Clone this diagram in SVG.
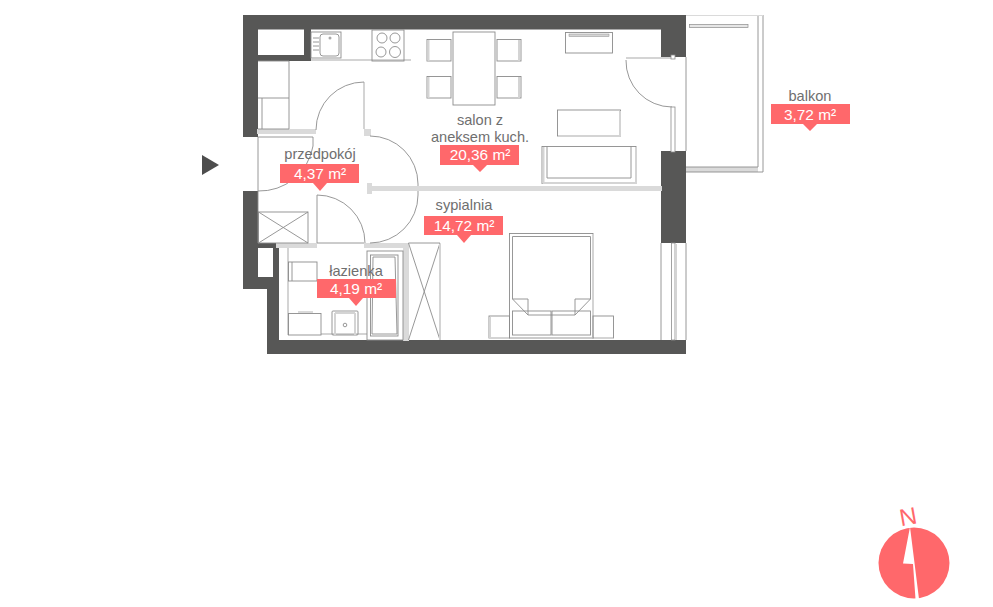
<svg xmlns="http://www.w3.org/2000/svg" width="993" height="607" viewBox="0 0 993 607">
<style>
text{font-family:"Liberation Sans",Arial,sans-serif;font-size:14.6px;text-anchor:middle}
.n{fill:#6f6f6f}.v{fill:#fff;font-size:15.4px}
.wall{fill:#575756}
.pt{fill:#dadada}
.l{fill:none;stroke:#8c8c8c;stroke-width:.9}
.h{fill:none;stroke:#d4d4d4;stroke-width:2}
.tag{fill:#ff686b}
</style>
<rect width="993" height="607" fill="#fff"/>
<g id="walls">
<path class="wall" d="M243 15H686V57H661V29.500H311V61H258V137H243Z"/>
<rect x="258" y="29.500" width="46" height="25.500" fill="#fff"/>
<path class="wall" d="M243 191H258V243H279V340H661V340H686V354H267V289H243Z"/>
<rect x="258" y="248" width="15" height="29" fill="#fff"/>
<rect class="wall" x="661" y="151" width="25" height="92"/>
</g>
<g id="partitions">
<rect class="pt" x="257" y="129" width="59" height="5"/>
<rect class="pt" x="364" y="129" width="7" height="7"/>
<rect class="pt" x="367" y="186" width="295" height="5"/>
<rect class="pt" x="367" y="183" width="5" height="11"/>
<rect class="pt" x="276" y="243" width="41" height="5"/>
<rect class="pt" x="364" y="243" width="45" height="5"/>
<rect class="pt" x="403" y="243" width="6" height="98"/>
<path class="h" d="M288 248V335M311 60H411M364 82V129M321 334H367"/>
</g>
<g id="connectors">
<path class="l" d="M364 82A48 48 0 0 0 316 130"/>
<path class="l" d="M370 136A48 48 0 0 1 418 184V186"/>
<path class="l" d="M258 137H313V146A54 54 0 0 1 258 191"/>
<path class="l" d="M258 137V243M317 195V243H364M317 195A48 48 0 0 1 365 243"/>
<path class="l" d="M418 191V195A48 48 0 0 1 370 243"/>
<path class="l" d="M626 60A46 46 0 0 0 672 107"/>
<path class="h" d="M626 58H672"/>
<path class="l" d="M686 57V151M661 243V340M686 243V340"/>
</g>
<g id="kitchen">
<rect class="l" x="311" y="32" width="30" height="26"/>
<rect class="l" x="320" y="34" width="19" height="22" rx="3"/>
<path class="l" d="M313 38H319M313 42H319M313 46H319M313 50H319"/>
<circle cx="330" cy="38" r="1.500" fill="#aaa"/>
<rect class="l" x="372" y="30" width="32" height="31"/>
<circle class="l" cx="382" cy="38" r="5"/><circle class="l" cx="395" cy="38" r="5"/>
<circle class="l" cx="381" cy="52" r="5"/><circle class="l" cx="395" cy="52" r="5.500"/>
<path class="l" d="M258 61H289V129H258M258 98H289M262 98V129"/>
</g>
<g id="dining">
<rect class="l" x="453" y="32" width="42" height="73"/>
<rect class="l" x="427" y="39.500" width="24" height="21.500"/><path class="h" d="M428.500 40V61"/>
<rect class="l" x="427" y="76.500" width="24" height="21.500"/><path class="h" d="M428.500 77V98"/>
<rect class="l" x="497" y="39.500" width="24" height="21.500"/><path class="h" d="M519 40V61"/>
<rect class="l" x="497" y="76.500" width="24" height="21.500"/><path class="h" d="M519 77V98"/>
</g>
<g id="living">
<rect class="l" x="565.500" y="32.500" width="47" height="20.500"/>
<rect x="569" y="34" width="40" height="2.500" fill="#d4d4d4" stroke="#8c8c8c" stroke-width=".5"/>
<rect class="l" x="557.500" y="110" width="63" height="26"/>
<path class="h" d="M558 136H620M620 111V136"/>
<rect class="l" x="542" y="146.500" width="94" height="37"/>
<path class="l" d="M547 146.500V178H631V146.500"/>
<path class="h" d="M543.500 147V183H636V147"/>
</g>
<g id="closet">
<rect class="l" x="258.500" y="212" width="49.500" height="31"/>
<path class="l" d="M258.500 212L308 243M308 212L258.500 243"/>
<path class="l" d="M408.500 243L440 340M440 243L408.500 340M408.500 243H440"/>
<path class="h" d="M440 244V340"/>
</g>
<g id="bathroom">
<rect class="l" x="288.500" y="262" width="28.500" height="19"/><path class="l" d="M292 262V281"/>
<rect class="l" x="288.500" y="313.500" width="32.500" height="21.500"/><rect class="pt" x="298" y="311" width="15" height="2"/>
<rect class="l" x="332" y="311" width="26" height="24" rx="1"/>
<path class="h" d="M335 313V335M355 313V335M335 313H355"/>
<circle class="l" cx="345" cy="325" r="1.800"/>
<rect class="l" x="367" y="251" width="36" height="89"/>
<rect class="l" x="370.500" y="255" width="27.500" height="81"/>
<path class="l" d="M373 257H395L397 334H372Z"/>
</g>
<g id="balcony">
<path class="pt" d="M686 15H758V16H686ZM686 167H758V172H686Z"/>
<path class="l" d="M763 15V172H686M758 15V167H686"/>
<rect class="pt" x="686" y="15" width="77" height="1"/>
<rect x="689.500" y="24.500" width="58.500" height="3" fill="#e6e6e6" stroke="#8c8c8c" stroke-width=".7"/>
</g>
<g id="windows">
<rect x="671" y="107" width="4" height="45" fill="#fff" stroke="#8c8c8c" stroke-width=".8"/>
<rect x="671" y="55" width="4" height="4" fill="#fff" stroke="#8c8c8c" stroke-width=".8"/>
<rect x="671.500" y="243" width="3.500" height="97" fill="#fff" stroke="#8c8c8c" stroke-width=".8"/>
<path class="h" d="M676 244V340"/>
</g>
<g id="bed">
<rect class="l" x="509.500" y="233.500" width="83.500" height="104.500"/>
<path class="h" d="M593 234V338"/>
<path class="l" d="M512.500 236.500H590.500V299L575 315H528L512.500 299Z"/>
<path class="l" d="M512.500 299H528V315M590.500 299H575V315"/>
<rect class="l" x="512.500" y="311" width="38.500" height="24"/><rect class="l" x="552" y="311" width="38.500" height="24"/>
<rect class="l" x="489" y="316" width="20.500" height="22"/><rect class="l" x="593" y="316" width="20.500" height="22"/>
<path class="h" d="M490 317V338H509M594 338H613"/>
</g>
<g id="label-salon">
<text class="n" x="480" y="125">salon z</text><text class="n" x="480" y="142">aneksem kuch.</text>
<path class="tag" d="M440 145H519V165H487L480 172L473 165H440Z"/><text class="v" x="480" y="160">20,36 m²</text>
</g>
<g id="label-przedpokoj">
<text class="n" x="320" y="159">przedpokój</text>
<path class="tag" d="M280 164H359V183H327L320 191L313 183H280Z"/><text class="v" x="320" y="179">4,37 m²</text>
</g>
<g id="label-sypialnia">
<text class="n" x="464" y="210">sypialnia</text>
<path class="tag" d="M424 216H503V235H471L464 243L457 235H424Z"/><text class="v" x="464" y="231">14,72 m²</text>
</g>
<g id="label-lazienka">
<text class="n" x="356" y="276">łazienka</text>
<path class="tag" d="M317 279H396V298H363L356 306L349 298H317Z"/><text class="v" x="356" y="294">4,19 m²</text>
</g>
<g id="label-balkon">
<text class="n" x="810" y="101">balkon</text>
<path class="tag" d="M771 104H850V124H817L810 131L803 124H771Z"/><text class="v" x="810" y="120">3,72 m²</text>
</g>
<path id="entry-arrow" d="M202 155V175L219 165Z" fill="#4d4d4d"/>
<g id="compass">
<circle cx="914" cy="563" r="35.500" fill="#ff686b"/>
<path d="M910 527L903 563.500L913 564L915.500 599L919 599Z" fill="#fff"/>
<text x="908" y="525" transform="rotate(-10 908 516)" style="font-size:24px;fill:#ff686b">N</text>
</g>
</svg>
